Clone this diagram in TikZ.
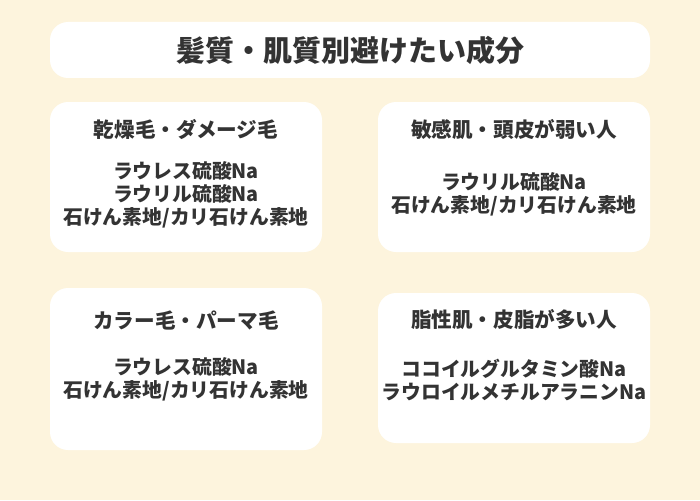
\documentclass[tikz,border=0pt]{standalone}
\usepackage{fontspec}
\usepackage{xcolor}
\newfontfamily\jp{Noto Sans CJK JP}
\usetikzlibrary{positioning}
\definecolor{cream}{HTML}{FDF4DD}
\definecolor{ink}{HTML}{333333}

\begin{document}
\begin{tikzpicture}[x=1pt, y=-1pt,
        panel/.style={fill=white, draw=none, rounded corners=18pt, inner sep=0pt},
        head/.style={font=\jp\bfseries\fontsize{20.6}{24}\selectfont, text=ink},
        body/.style={font=\jp\bfseries\fontsize{19.8}{23}\selectfont, text=ink, align=center}]
                                \fill[cream] (0, 0) rectangle (700, 500);
                                \node[panel, minimum width=600pt, minimum height=56pt] (t) at (350, 50) {};
                                \node[panel, minimum width=272pt, minimum height=150pt] (a) at (186, 177) {};
                                \node[panel, minimum width=272pt, minimum height=150pt] (b) at (514, 177) {};
                                \node[panel, minimum width=272pt, minimum height=162pt] (c) at (186, 369) {};
                                \node[panel, minimum width=272pt, minimum height=150pt] (d) at (514, 368) {};
                                \node[head, font=\jp\bfseries\fontsize{29}{32}\selectfont] (tt) at (350, 50) {髪質・肌質別避けたい成分};
                                \node[head] (ah) at (186, 130) {乾燥毛・ダメージ毛};
                                \node[head] (bh) at (514, 130) {敏感肌・頭皮が弱い人};
                                \node[head] (ch) at (186, 320) {カラー毛・パーマ毛};
                                \node[head] (dh) at (514, 320) {脂性肌・皮脂が多い人};
                                \node[body] (al) at (186, 195) {ラウレス硫酸Na\\ラウリル硫酸Na\\石けん素地/カリ石けん素地};
                                \node[body] (bl) at (514, 194) {ラウリル硫酸Na\\石けん素地/カリ石けん素地};
                                \node[body] (cl) at (186, 379) {ラウレス硫酸Na\\石けん素地/カリ石けん素地};
                                \node[body] (dl) at (514, 380) {ココイルグルタミン酸Na\\ラウロイルメチルアラニンNa};
                            \end{tikzpicture}
\end{document}
